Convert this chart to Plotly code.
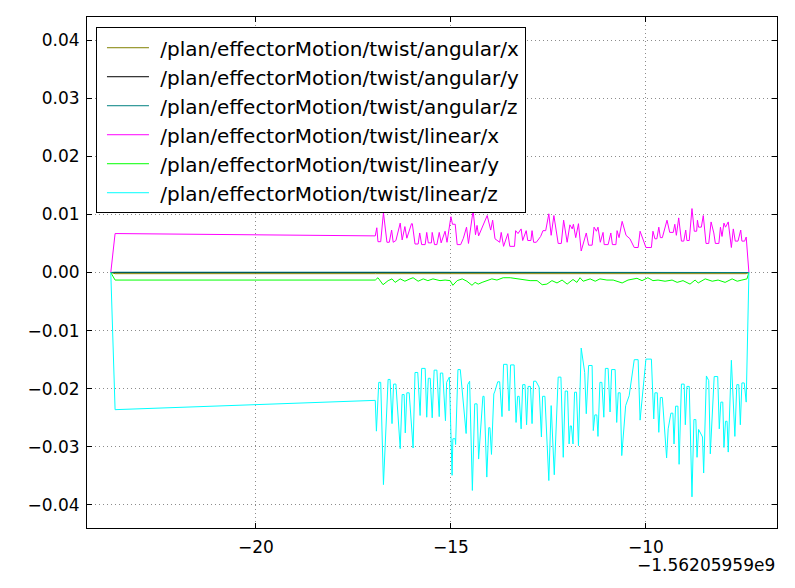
import plotly.graph_objects as go

# x values are offsets from -1.56205959e9 (s)
names = [
    "/plan/effectorMotion/twist/angular/x",
    "/plan/effectorMotion/twist/angular/y",
    "/plan/effectorMotion/twist/angular/z",
    "/plan/effectorMotion/twist/linear/x",
    "/plan/effectorMotion/twist/linear/y",
    "/plan/effectorMotion/twist/linear/z",
]
colors = ["#808000", "#000000", "#008080", "#ff00ff", "#00ff00", "#00ffff"]

ang_x_t = [-23.72, -23.61, -16.94, -7.43, -7.36]
ang_x_v = [0.0, -0.0002, -0.0002, -0.0002, 0.0]
ang_y_t = [-23.72, -23.61, -16.94, -7.43, -7.36]
ang_y_v = [0.0, 0.0, 0.0, 0.0, 0.0]
ang_z_t = [-23.72, -23.61, -16.94, -7.43, -7.36]
ang_z_v = [0.0, 0.00005, 0.00005, 0.00005, 0.0]

lin_x_t = [-23.72, -23.61, -16.94, -16.90, -16.87, -16.80, -16.73, -16.64, -16.58, -16.52, -16.48, -16.41,
           -16.30, -16.25, -16.18, -16.13, -16.01, -15.99, -15.92, -15.84, -15.80, -15.75, -15.66, -15.62,
           -15.58, -15.50, -15.48, -15.42, -15.36, -15.30, -15.25, -15.15, -15.10, -15.00, -14.96, -14.89,
           -14.84, -14.75, -14.68, -14.60, -14.55, -14.43, -14.37, -14.33, -14.29, -14.07, -13.98, -13.93,
           -13.87, -13.75, -13.71, -13.65, -13.54, -13.49, -13.37, -13.34, -13.28, -13.20, -13.16, -13.07,
           -13.03, -12.95, -12.92, -12.88, -12.81, -12.70, -12.64, -12.57, -12.49, -12.43, -12.36, -12.25,
           -12.17, -12.11, -12.02, -11.95, -11.89, -11.86, -11.80, -11.73, -11.66, -11.53, -11.47, -11.38,
           -11.33, -11.27, -11.23, -11.17, -11.10, -11.07, -10.97, -10.90, -10.86, -10.77, -10.74, -10.69,
           -10.61, -10.51, -10.41, -10.30, -10.20, -10.15, -10.00, -9.86, -9.82, -9.77, -9.72, -9.67,
           -9.63, -9.58, -9.46, -9.39, -9.30, -9.26, -9.22, -9.16, -9.09, -9.03, -8.98, -8.95,
           -8.89, -8.82, -8.76, -8.70, -8.68, -8.65, -8.58, -8.53, -8.46, -8.39, -8.33, -8.26,
           -8.22, -8.13, -8.09, -8.05, -8.00, -7.96, -7.89, -7.81, -7.76, -7.71, -7.64, -7.57,
           -7.54, -7.47, -7.43, -7.36]
lin_x_v = [0.0, 0.0067, 0.0063, 0.0077, 0.0053, 0.0053, 0.0103, 0.0052, 0.0052, 0.0073, 0.0052, 0.0055,
           0.0085, 0.0056, 0.0079, 0.0059, 0.0084, 0.0084, 0.0049, 0.0049, 0.0068, 0.0048, 0.0048, 0.0069,
           0.0051, 0.0051, 0.0069, 0.0048, 0.0048, 0.0069, 0.0051, 0.0071, 0.0052, 0.0096, 0.0083, 0.0083,
           0.0048, 0.0048, 0.0059, 0.0078, 0.0050, 0.0107, 0.0065, 0.0081, 0.0063, 0.0098, 0.0073, 0.0090,
           0.0058, 0.0052, 0.0069, 0.0045, 0.0067, 0.0045, 0.0045, 0.0072, 0.0067, 0.0075, 0.0055, 0.0072,
           0.0055, 0.0055, 0.0072, 0.0052, 0.0052, 0.0062, 0.0072, 0.0072, 0.0101, 0.0064, 0.0098, 0.0050,
           0.0050, 0.0090, 0.0052, 0.0082, 0.0075, 0.0083, 0.0060, 0.0084, 0.0037, 0.0068, 0.0047, 0.0047,
           0.0078, 0.0071, 0.0078, 0.0052, 0.0069, 0.0048, 0.0048, 0.0068, 0.0048, 0.0048, 0.0072, 0.0060,
           0.0088, 0.0064, 0.0058, 0.0043, 0.0043, 0.0071, 0.0043, 0.0043, 0.0071, 0.0058, 0.0058, 0.0078,
           0.0060, 0.0060, 0.0090, 0.0069, 0.0069, 0.0083, 0.0064, 0.0094, 0.0054, 0.0054, 0.0073, 0.0055,
           0.0055, 0.0110, 0.0071, 0.0071, 0.0090, 0.0078, 0.0078, 0.0098, 0.0050, 0.0050, 0.0087, 0.0068,
           0.0050, 0.0050, 0.0078, 0.0062, 0.0085, 0.0078, 0.0087, 0.0043, 0.0075, 0.0054, 0.0054, 0.0073,
           0.0054, 0.0054, 0.0061, 0.0]

lin_y_t = [-23.72, -23.61, -16.94, -16.87, -16.74, -16.61, -16.51, -16.43, -16.30, -16.18, -16.05, -15.97,
           -15.84, -15.71, -15.59, -15.46, -15.28, -15.15, -15.02, -14.95, -14.84, -14.71, -14.59, -14.46,
           -14.38, -14.30, -14.20, -14.07, -13.95, -13.82, -13.66, -13.48, -13.30, -13.15, -12.97, -12.79,
           -12.66, -12.54, -12.41, -12.28, -12.15, -12.02, -11.87, -11.77, -11.69, -11.61, -11.43, -11.30,
           -11.18, -11.00, -10.84, -10.61, -10.46, -10.23, -10.10, -9.95, -9.82, -9.69, -9.51, -9.33,
           -9.20, -9.05, -8.87, -8.74, -8.66, -8.48, -8.30, -8.15, -7.97, -7.79, -7.66, -7.54,
           -7.41, -7.36]
lin_y_v = [0.0, -0.0013, -0.0013, -0.0009, -0.0021, -0.0014, -0.0011, -0.0017, -0.0011, -0.0015, -0.0011, -0.0009,
           -0.0015, -0.0011, -0.0014, -0.0011, -0.0014, -0.0013, -0.0014, -0.0022, -0.0014, -0.0011, -0.0015, -0.0022,
           -0.0017, -0.0020, -0.0017, -0.0014, -0.0011, -0.0013, -0.0009, -0.0009, -0.0011, -0.0013, -0.0014, -0.0014,
           -0.0021, -0.0020, -0.0014, -0.0018, -0.0013, -0.0020, -0.0012, -0.0017, -0.0009, -0.0015, -0.0011, -0.0015,
           -0.0011, -0.0013, -0.0013, -0.0018, -0.0013, -0.0010, -0.0014, -0.0009, -0.0014, -0.0013, -0.0015, -0.0013,
           -0.0017, -0.0014, -0.0020, -0.0013, -0.0018, -0.0011, -0.0015, -0.0013, -0.0017, -0.0011, -0.0015, -0.0013,
           -0.0011, 0.0]

lin_z_t = [-23.72, -23.61, -16.94, -16.91, -16.85, -16.80, -16.73, -16.61, -16.56, -16.51, -16.47, -16.41,
           -16.30, -16.25, -16.20, -16.17, -16.13, -16.07, -15.97, -15.92, -15.85, -15.79, -15.75, -15.66,
           -15.62, -15.58, -15.53, -15.48, -15.43, -15.36, -15.30, -15.27, -15.21, -15.14, -15.11, -15.04,
           -14.97, -14.95, -14.89, -14.88, -14.82, -14.76, -14.61, -14.57, -14.52, -14.45, -14.39, -14.33,
           -14.29, -14.18, -14.15, -14.08, -14.03, -14.00, -13.96, -13.90, -13.87, -13.80, -13.75, -13.69,
           -13.65, -13.56, -13.51, -13.47, -13.38, -13.33, -13.29, -13.25, -13.20, -13.16, -13.10, -13.06,
           -13.02, -12.96, -12.92, -12.88, -12.82, -12.74, -12.68, -12.65, -12.59, -12.49, -12.43, -12.35,
           -12.25, -12.18, -12.12, -12.07, -12.01, -11.97, -11.94, -11.91, -11.87, -11.83, -11.78, -11.73,
           -11.66, -11.57, -11.53, -11.47, -11.38, -11.35, -11.31, -11.26, -11.23, -11.18, -11.13, -11.08,
           -11.04, -10.97, -10.92, -10.88, -10.79, -10.75, -10.71, -10.66, -10.62, -10.52, -10.43, -10.30,
           -10.20, -10.15, -10.00, -9.86, -9.80, -9.77, -9.71, -9.67, -9.63, -9.58, -9.47, -9.43,
           -9.36, -9.31, -9.28, -9.24, -9.18, -9.15, -9.09, -9.02, -8.99, -8.95, -8.89, -8.82,
           -8.77, -8.72, -8.69, -8.65, -8.55, -8.52, -8.45, -8.39, -8.35, -8.25, -8.16, -8.12,
           -8.08, -8.03, -8.00, -7.96, -7.92, -7.89, -7.81, -7.72, -7.67, -7.62, -7.58, -7.54,
           -7.48, -7.43, -7.36]
lin_z_v = [0.0, -0.0236, -0.0220, -0.0273, -0.0189, -0.0189, -0.0365, -0.0184, -0.0184, -0.0260, -0.0192, -0.0192,
           -0.0303, -0.0210, -0.0210, -0.0276, -0.0207, -0.0207, -0.0302, -0.0172, -0.0172, -0.0246, -0.0165, -0.0165,
           -0.0249, -0.0182, -0.0182, -0.0250, -0.0168, -0.0168, -0.0248, -0.0173, -0.0173, -0.0255, -0.0189, -0.0180,
           -0.0349, -0.0286, -0.0286, -0.0296, -0.0167, -0.0167, -0.0277, -0.0193, -0.0187, -0.0375, -0.0226, -0.0226,
           -0.0321, -0.0213, -0.0213, -0.0352, -0.0267, -0.0267, -0.0313, -0.0209, -0.0204, -0.0188, -0.0188, -0.0248,
           -0.0158, -0.0158, -0.0238, -0.0159, -0.0159, -0.0258, -0.0213, -0.0213, -0.0269, -0.0193, -0.0193, -0.0262,
           -0.0196, -0.0196, -0.0260, -0.0187, -0.0187, -0.0197, -0.0283, -0.0213, -0.0213, -0.0358, -0.0229, -0.0348,
           -0.0180, -0.0180, -0.0318, -0.0204, -0.0204, -0.0295, -0.0264, -0.0264, -0.0295, -0.0206, -0.0206, -0.0298,
           -0.0130, -0.0172, -0.0243, -0.0160, -0.0160, -0.0272, -0.0245, -0.0245, -0.0282, -0.0189, -0.0189, -0.0249,
           -0.0165, -0.0165, -0.0240, -0.0167, -0.0167, -0.0258, -0.0207, -0.0207, -0.0315, -0.0229, -0.0212, -0.0150,
           -0.0150, -0.0254, -0.0149, -0.0149, -0.0252, -0.0207, -0.0207, -0.0275, -0.0215, -0.0215, -0.0319, -0.0269,
           -0.0242, -0.0242, -0.0295, -0.0230, -0.0230, -0.0330, -0.0192, -0.0192, -0.0262, -0.0196, -0.0196, -0.0386,
           -0.0253, -0.0253, -0.0318, -0.0270, -0.0283, -0.0345, -0.0178, -0.0186, -0.0312, -0.0179, -0.0179, -0.0269,
           -0.0223, -0.0223, -0.0301, -0.0256, -0.0256, -0.0309, -0.0151, -0.0282, -0.0193, -0.0193, -0.0262, -0.0190,
           -0.0190, -0.0223, 0.0]

x_ticks = [-20, -15, -10]
y_ticks = [0.04, 0.03, 0.02, 0.01, 0.0, -0.01, -0.02, -0.03, -0.04]
x_offset_label = "\u22121.56205959e9"

series = [
    (ang_x_t, ang_x_v), (ang_y_t, ang_y_v), (ang_z_t, ang_z_v),
    (lin_x_t, lin_x_v), (lin_y_t, lin_y_v), (lin_z_t, lin_z_v),
]

fig = go.Figure()
for i, ((t, v), name, c) in enumerate(zip(series, names, colors)):
    fig.add_trace(go.Scatter(x=t, y=v, mode="lines", name="\u00a0" + name, legendgroup=f"g{i}",
                             line=dict(color=c, width=1)))

font = "DejaVu Sans"
axis_common = dict(
    showline=True, linecolor="black", linewidth=1, mirror="ticks",
    ticks="inside", ticklen=5, tickcolor="black", tickwidth=1,
    showgrid=True, gridcolor="rgba(0,0,0,0.45)", gridwidth=1, griddash="1px,3px",
    zeroline=False, tickfont=dict(family=font, size=17, color="black"),
)
fig.update_xaxes(range=[-24.33, -6.64], tickvals=x_ticks, ticklabelstandoff=4, **axis_common)
fig.update_yaxes(range=[-0.04396, 0.04396], tickvals=y_ticks, tickformat=".2f",
                 ticklabelstandoff=3, **axis_common)

fig.add_annotation(text=x_offset_label, xref="paper", yref="paper", x=1, y=0,
                   xanchor="right", yanchor="top", yshift=-25, showarrow=False,
                   font=dict(family=font, size=17, color="black"))

fig.update_layout(
    width=795, height=588,
    margin=dict(l=87, r=18, t=17, b=60),
    paper_bgcolor="white", plot_bgcolor="white",
    showlegend=True,
    legend=dict(x=0.013, y=0.98, xanchor="left", yanchor="top",
                bgcolor="white", bordercolor="black", borderwidth=1,
                font=dict(family=font, size=20, color="black"),
                itemwidth=42, indentation=5, tracegroupgap=3, traceorder="normal"),
)

fig.write_html("out.html")
